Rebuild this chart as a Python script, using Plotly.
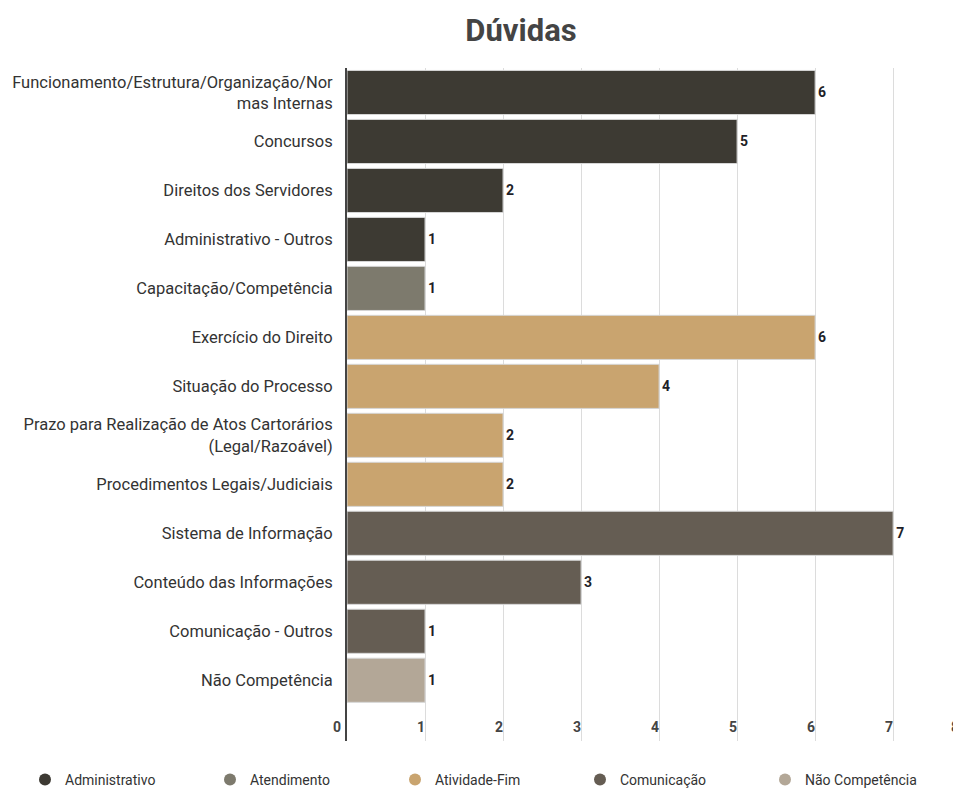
import plotly.graph_objects as go

# Data
categories = [
    'Funcionamento/Estrutura/Organização/Nor<br>mas Internas',
    'Concursos',
    'Direitos dos Servidores',
    'Administrativo - Outros',
    'Capacitação/Competência',
    'Exercício do Direito',
    'Situação do Processo',
    'Prazo para Realização de Atos Cartorários<br>(Legal/Razoável)',
    'Procedimentos Legais/Judiciais',
    'Sistema de Informação',
    'Conteúdo das Informações',
    'Comunicação - Outros',
    'Não Competência',
]
values = [6, 5, 2, 1, 1, 6, 4, 2, 2, 7, 3, 1, 1]
groups = ['Administrativo'] * 4 + ['Atendimento'] + ['Atividade-Fim'] * 4 + \
         ['Comunicação'] * 3 + ['Não Competência']
group_order = ['Administrativo', 'Atendimento', 'Atividade-Fim', 'Comunicação', 'Não Competência']
x_ticks = [1, 2, 3, 4, 5, 6, 7]

# Colour per group
GROUP_COLORS = {
    'Administrativo': '#3d3a33',
    'Atendimento': '#7d7a6d',
    'Atividade-Fim': '#c9a46f',
    'Comunicação': '#655d53',
    'Não Competência': '#b3a797',
}

FONT = 'Roboto, Arial, sans-serif'

# the page adds an 8px body margin, so the figure is sized to fit the window
W, H = 953, 783
M_L, M_T, M_B = 339, 60, 50
PLOT_W = W - M_L
PLOT_H = H - M_T - M_B

fig = go.Figure()

for g in group_order:
    ys = [c for c, grp in zip(categories, groups) if grp == g]
    xs = [v for v, grp in zip(values, groups) if grp == g]
    fig.add_trace(go.Bar(
        y=ys,
        x=xs,
        orientation='h',
        name=g,
        marker=dict(color=GROUP_COLORS[g], line=dict(color='#d6d6d6', width=1)),
        text=xs,
        textposition='outside',
        textfont=dict(family=FONT, size=14, color='#1f1f28', weight='bold'),
        cliponaxis=False,
        showlegend=False,
        hovertemplate='%{y}: %{x}<extra></extra>',
    ))
    # circle legend entries
    fig.add_trace(go.Scatter(
        x=[None], y=[None],
        mode='markers',
        name=g,
        marker=dict(symbol='circle', size=16, color=GROUP_COLORS[g]),
        showlegend=True,
    ))

fig.update_layout(
    width=W,
    height=H,
    barmode='overlay',
    bargap=0.1,
    template='plotly_white',
    plot_bgcolor='white',
    paper_bgcolor='white',
    font=dict(family=FONT, size=14, color='#333333'),
    title=dict(
        text='<b>Dúvidas</b>',
        xref='container',
        x=513 / W,
        xanchor='center',
        yref='container',
        y=1 - 22 / H,
        yanchor='middle',
        font=dict(family=FONT, size=31, color='#444444'),
    ),
    margin=dict(l=M_L, r=0, t=M_T, b=M_B, autoexpand=False),
    legend=dict(
        orientation='h',
        xref='paper',
        x=(17 - M_L) / PLOT_W,
        xanchor='left',
        yref='paper',
        y=-39 / PLOT_H,
        yanchor='middle',
        entrywidth=140,
        font=dict(family=FONT, size=14, color='#333333'),
        itemsizing='constant',
    ),
    showlegend=True,
)

fig.update_xaxes(
    range=[0, 7.87],
    tickvals=x_ticks,
    ticktext=[str(t) for t in x_ticks],
    showgrid=True,
    gridcolor='#dcdcdc',
    gridwidth=1,
    zeroline=False,
    automargin=False,
    ticklabelposition='inside left',
    tickfont=dict(family=FONT, size=14, color='#444444', weight='bold'),
    fixedrange=True,
)

fig.update_yaxes(
    categoryorder='array',
    categoryarray=categories,
    range=[13.24, -0.5],
    showline=True,
    linecolor='#444444',
    linewidth=2,
    showgrid=False,
    ticks='',
    automargin=False,
    ticklabelstandoff=9,
    tickfont=dict(family=FONT, size=16.5, color='#333333'),
    fixedrange=True,
)

# end labels of the x axis that fall outside the plotted range
fig.add_annotation(
    text='<b>0</b>', xref='paper', yref='paper', x=0, y=0.014,
    xanchor='right', yanchor='middle', xshift=-4, yshift=5, showarrow=False,
    font=dict(family=FONT, size=14, color='#444444'),
)
fig.add_annotation(
    text='<b>8</b>', xref='paper', yref='paper', x=1.0, y=0.014,
    xanchor='right', yanchor='middle', yshift=5, showarrow=False,
    font=dict(family=FONT, size=14, color='#444444'),
)

fig.write_html('out.html')
